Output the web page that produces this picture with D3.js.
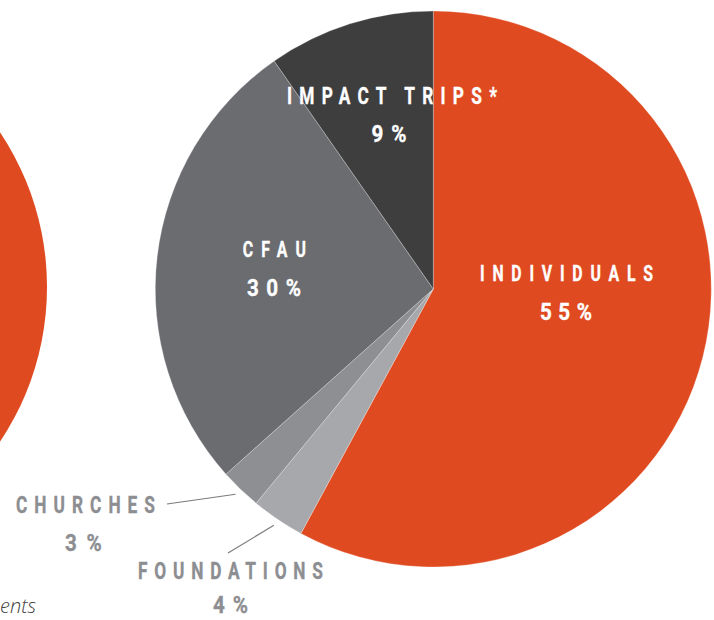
<!DOCTYPE html>
<html><head><meta charset="utf-8">
<script src="https://cdn.jsdelivr.net/npm/d3@7"></script>
<style>html,body{margin:0;padding:0;background:#fff;overflow:hidden}</style>
</head><body><svg id="c" width="714" height="620"></svg>
<script>
// ---- data ----
const categories = ["INDIVIDUALS", "FOUNDATIONS", "CHURCHES", "CFAU", "IMPACT TRIPS*"];
const shares = [57.9, 3.1, 2.4, 26.9, 9.7];           // drawn slice sizes
const percentLabels = ["55%", "4%", "3%", "30%", "9%"]; // printed labels
const colors = ["#E04A21", "#A7A8AB", "#8E8F92", "#6B6C70", "#3E3E3F"];
const neighbourShares = [100];                          // the cut-off pie on the left
const footnoteText = "ents";

// ---- layout ----
const cx = 433.3, cy = 289, R = 278;
const labelLayout = [
  {name: {x: 566.5, y: 281, w: 173, s: 22}, pct: {x: 566, y: 320, w: 52, s: 24}, fill: "#fff"},
  {name: {x: 230.5, y: 579, w: 185, s: 24}, pct: {x: 230.5, y: 613, w: 35, s: 24}, fill: "#8D8E91", lineFrom: [228, 553]},
  {name: {x: 85.5, y: 513, w: 139, s: 24}, pct: {x: 83.3, y: 550.7, w: 36.7, s: 24}, fill: "#8D8E91", lineFrom: [167, 504]},
  {name: {x: 274.4, y: 256.7, w: 63.3, s: 22}, pct: {x: 274, y: 296, w: 54, s: 24}, fill: "#fff"},
  {name: {x: 392, y: 104, w: 210, s: 24}, pct: {x: 389, y: 141.7, w: 35, s: 24}, fill: "#fff"}
];

const svg = d3.select("#c");

// neighbouring pie, mostly off-canvas
const nPie = d3.pie().sort(null)(neighbourShares);
svg.append("g").attr("transform", "translate(-231,287)")
  .selectAll("path").data(nPie).join("path")
  .attr("d", d3.arc().innerRadius(0).outerRadius(R))
  .attr("fill", colors[0]);

// main pie
const pie = d3.pie().sort(null).value(d => d)(shares);
const arc = d3.arc().innerRadius(0).outerRadius(R);
const g = svg.append("g").attr("transform", `translate(${cx},${cy})`);
g.selectAll("path").data(pie).join("path")
  .attr("d", arc)
  .attr("fill", (d, i) => colors[i])
  .attr("stroke", "#ffffff")
  .attr("stroke-opacity", 0.45)
  .attr("stroke-width", 0.6);

// leader lines
const edge = d3.arc().innerRadius(285).outerRadius(285);
pie.forEach((d, i) => {
  const L = labelLayout[i];
  if (!L.lineFrom) return;
  const c = edge.centroid(d);
  svg.append("line")
    .attr("x1", L.lineFrom[0]).attr("y1", L.lineFrom[1])
    .attr("x2", cx + c[0]).attr("y2", cy + c[1])
    .attr("stroke", "#7a7b7e").attr("stroke-width", 1.1);
});

// spaced, condensed labels
function spaced(text, p, fill, sx) {
  const grp = svg.append("g").attr("transform", `translate(${p.x - p.w / 2},${p.y}) scale(${sx},1)`);
  const t = grp.append("text").text(text)
    .attr("x", 0).attr("y", 0)
    .attr("font-family", "Roboto, 'Liberation Sans', sans-serif")
    .attr("font-weight", 700)
    .attr("font-size", p.s)
    .attr("fill", fill)
    .attr("stroke", fill).attr("stroke-width", 0.35);
  const w = t.node().getComputedTextLength();
  const n = text.length;
  const ls = (p.w / sx - w) / (n - 1);
  t.attr("letter-spacing", ls);
}
categories.forEach((c, i) => {
  const L = labelLayout[i];
  spaced(c, L.name, L.fill, 0.72);
  spaced(percentLabels[i], L.pct, L.fill, 0.86);
});

// footnote fragment
svg.append("text").text(footnoteText)
  .attr("x", 0).attr("y", 613)
  .attr("font-family", "'Open Sans', sans-serif")
  .attr("font-style", "italic").attr("font-weight", 300)
  .attr("font-size", 20).attr("fill", "#444");
</script></body></html>
